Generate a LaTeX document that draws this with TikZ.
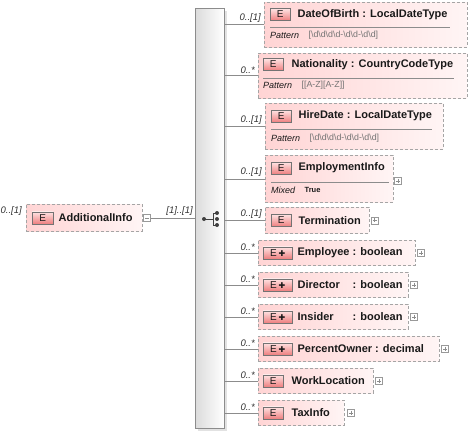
\documentclass[tikz,border=0pt]{standalone}
\usepackage{fontspec}
\setmainfont{Liberation Sans}
\newfontfamily\symfont{DejaVu Sans}
\usetikzlibrary{positioning,calc,shadows}
\definecolor{elpink}{RGB}{255,212,212}
\definecolor{elpinklight}{RGB}{255,245,245}
\definecolor{iconred}{RGB}{238,128,128}
\definecolor{iconlight}{RGB}{255,228,228}
\definecolor{borderdash}{RGB}{165,165,165}
\definecolor{textdark}{RGB}{25,25,25}
\newcommand{\digd}{\textbackslash d}
\newcommand{\eplus}{E\,{\symfont\fontsize{8}{8}\selectfont ✚}}

\tikzset{
	elbox/.style={draw=borderdash, dash pattern=on 3pt off 2pt, left color=elpink, right color=elpinklight, anchor=north west, inner sep=0pt},
	eicon/.style={draw=black!55, top color=iconlight, bottom color=iconred, minimum width=20pt, minimum height=12pt, inner sep=0pt, text=textdark, font=\fontsize{10}{10}\selectfont, anchor=west},
	epicon/.style={eicon, minimum width=29pt},
	elname/.style={font=\fontsize{11}{12}\selectfont\bfseries, text=textdark, anchor=west, inner sep=0pt},
	card/.style={font=\fontsize{9.5}{10}\selectfont\itshape, text=black!80, inner sep=0pt, anchor=south east},
	facet/.style={font=\fontsize{9}{10}\selectfont\itshape, text=textdark, inner sep=0pt, anchor=west},
	facetval/.style={font=\fontsize{8.8}{10}\selectfont, text=black!55, inner sep=0pt, anchor=west},
	sepline/.style={draw=black!45},
	link/.style={draw=black!45},
	plusbox/.style={draw=black!40, fill=white, minimum size=7pt, inner sep=0pt, anchor=west,
		path picture={\draw[black!45] ([xshift=1.5pt]path picture bounding box.west) -- ([xshift=-1.5pt]path picture bounding box.east) ([yshift=-1.5pt]path picture bounding box.north) -- ([yshift=1.5pt]path picture bounding box.south);}},
	minusbox/.style={draw=black!40, fill=white, minimum size=7pt, inner sep=0pt, anchor=west,
		path picture={\draw[black!45] ([xshift=1.5pt]path picture bounding box.west) -- ([xshift=-1.5pt]path picture bounding box.east);}},
}

\begin{document}
\begin{tikzpicture}[x=1pt, y=-1pt]
				\useasboundingbox (0,0) rectangle (470,433);
				\fill[white] (0,0) rectangle (470,433);
				
				% Sequence compositor
				\node[draw=black!45, left color=black!14, right color=white, minimum width=29pt, minimum height=420pt, anchor=north west, inner sep=0pt, drop shadow={shadow xshift=2.5pt, shadow yshift=-2.5pt, fill=black!22}] (seq) at (195,8) {};
				\fill[black!75] (204,219) circle (2pt);
				\draw[black!75] (204,219) -- (213,219) (213,213) -- (213,225) (213,213) -- (217,213) (213,225) -- (217,225);
				\fill[black!75] (217,213) circle (2pt) (217,219) circle (2pt) (217,225) circle (2pt);
				
				% Root element
				\node[elbox, minimum width=116pt, minimum height=27pt] (addinfo) at (26,204) {};
				\node[eicon, minimum width=21pt] (addinfoE) at ([xshift=6pt]addinfo.west) {E};
				\node[elname] (addinfoT) at ([xshift=5pt]addinfoE.east) {AdditionalInfo};
				\node[minusbox] (addinfoM) at ([xshift=1pt]addinfo.east) {};
				\node[card] (addinfoC) at ([xshift=-4pt,yshift=2pt]addinfo.west) {0..[1]};
				\draw[link] (addinfoM.east) -- (addinfoM.east -| seq.west);
				\node[card] (seqC) at ([xshift=-2pt,yshift=2pt]addinfoM.east -| seq.west) {[1]..[1]};
				
				% DateOfBirth
				\node[elbox, minimum width=203pt, minimum height=45pt] (dob) at (264,2) {};
				\node[eicon] (dobE) at ($(dob.north west)+(6,12.5)$) {E};
				\node[elname] (dobT) at ([xshift=7pt]dobE.east) {DateOfBirth : LocalDateType};
				\draw[sepline] ($(dob.north west)+(6,25)$) -- ($(dobT.east |- dob.north)+(2,25)$);
				\node[facet] (dobF) at ($(dob.north west)+(6,33)$) {Pattern};
				\node[facetval] (dobV) at ([xshift=9pt]dobF.east) {[\digd\digd\digd\digd-\digd\digd-\digd\digd]};
				\draw[link] (dob.west -| seq.east) -- (dob.west);
				\node[card] (dobC) at ([xshift=-3pt,yshift=2pt]dob.west) {0..[1]};
				
				% Nationality
				\node[elbox, minimum width=209pt, minimum height=45pt] (nat) at (258,53) {};
				\node[eicon] (natE) at ($(nat.north west)+(5,11.5)$) {E};
				\node[elname] (natT) at ([xshift=8pt]natE.east) {Nationality : CountryCodeType};
				\draw[sepline] ($(nat.north west)+(5,25)$) -- ($(natT.east |- nat.north)+(1,25)$);
				\node[facet] (natF) at ($(nat.north west)+(5,32)$) {Pattern};
				\node[facetval] (natV) at ([xshift=9pt]natF.east) {[[A-Z][A-Z]]};
				\draw[link] (nat.west -| seq.east) -- (nat.west);
				\node[card] (natC) at ([xshift=-3pt,yshift=2pt]nat.west) {0..*};
				
				% HireDate
				\node[elbox, minimum width=178pt, minimum height=46pt] (hire) at (265,103) {};
				\node[eicon] (hireE) at ($(hire.north west)+(6,13)$) {E};
				\node[elname] (hireT) at ([xshift=7pt]hireE.east) {HireDate : LocalDateType};
				\draw[sepline] ($(hire.north west)+(6,26.5)$) -- ($(hireT.east |- hire.north)+(0,26.5)$);
				\node[facet] (hireF) at ($(hire.north west)+(6,35)$) {Pattern};
				\node[facetval] (hireV) at ([xshift=9pt]hireF.east) {[\digd\digd\digd\digd-\digd\digd-\digd\digd]};
				\draw[link] (hire.west -| seq.east) -- (hire.west);
				\node[card] (hireC) at ([xshift=-3pt,yshift=2pt]hire.west) {0..[1]};
				
				% EmploymentInfo
				\node[elbox, minimum width=128pt, minimum height=47pt] (emp) at (265,155) {};
				\node[eicon] (empE) at ($(emp.north west)+(6,13)$) {E};
				\node[elname] (empT) at ([xshift=7pt]empE.east) {EmploymentInfo};
				\draw[sepline] ($(emp.north west)+(6,27)$) -- ($(empT.east |- emp.north)+(4,27)$);
				\node[facet] (empF) at ($(emp.north west)+(6,35)$) {Mixed};
				\node[facetval, text=textdark, font=\fontsize{7.5}{9}\selectfont\bfseries] (empV) at ([xshift=9pt]empF.east) {True};
				\node[plusbox] (empP) at ([xshift=1pt,yshift=-2pt]emp.east) {};
				\draw[link] (emp.west -| seq.east) -- (emp.west);
				\node[card] (empC) at ([xshift=-3pt,yshift=2pt]emp.west) {0..[1]};
				
				% Termination
				\node[elbox, minimum width=104pt, minimum height=26pt] (term) at (265,207) {};
				\node[eicon] (termE) at ([xshift=6pt]term.west) {E};
				\node[elname] (termT) at ([xshift=7pt]termE.east) {Termination};
				\node[plusbox] (termP) at ([xshift=1.5pt]term.east) {};
				\draw[link] (term.west -| seq.east) -- (term.west);
				\node[card] (termC) at ([xshift=-3pt,yshift=2pt]term.west) {0..[1]};
				
				% Employee
				\node[elbox, minimum width=157pt, minimum height=25pt] (empl) at (258,240) {};
				\node[epicon] (emplE) at ([xshift=5pt]empl.west) {\eplus};
				\node[elname] (emplT) at ([xshift=5pt]emplE.east) {\makebox[52pt][l]{Employee} : boolean};
				\node[plusbox] (emplP) at ([xshift=2pt]empl.east) {};
				\draw[link] (empl.west -| seq.east) -- (empl.west);
				\node[card] (emplC) at ([xshift=-3pt,yshift=2pt]empl.west) {0..*};
				
				% Director
				\node[elbox, minimum width=150pt, minimum height=25pt] (dir) at (258,272) {};
				\node[epicon] (dirE) at ([xshift=5pt]dir.west) {\eplus};
				\node[elname] (dirT) at ([xshift=5pt]dirE.east) {\makebox[52pt][l]{Director} : boolean};
				\node[plusbox] (dirP) at ([xshift=2pt]dir.east) {};
				\draw[link] (dir.west -| seq.east) -- (dir.west);
				\node[card] (dirC) at ([xshift=-3pt,yshift=2pt]dir.west) {0..*};
				
				% Insider
				\node[elbox, minimum width=150pt, minimum height=25pt] (ins) at (258,304) {};
				\node[epicon] (insE) at ([xshift=5pt]ins.west) {\eplus};
				\node[elname] (insT) at ([xshift=5pt]insE.east) {\makebox[52pt][l]{Insider} : boolean};
				\node[plusbox] (insP) at ([xshift=2pt]ins.east) {};
				\draw[link] (ins.west -| seq.east) -- (ins.west);
				\node[card] (insC) at ([xshift=-3pt,yshift=2pt]ins.west) {0..*};
				
				% PercentOwner
				\node[elbox, minimum width=181pt, minimum height=25pt] (pct) at (258,336) {};
				\node[epicon] (pctE) at ([xshift=5pt]pct.west) {\eplus};
				\node[elname] (pctT) at ([xshift=5pt]pctE.east) {PercentOwner : decimal};
				\node[plusbox] (pctP) at ([xshift=2pt]pct.east) {};
				\draw[link] (pct.west -| seq.east) -- (pct.west);
				\node[card] (pctC) at ([xshift=-3pt,yshift=2pt]pct.west) {0..*};
				
				% WorkLocation
				\node[elbox, minimum width=115pt, minimum height=25pt] (work) at (258,368) {};
				\node[eicon] (workE) at ([xshift=5pt]work.west) {E};
				\node[elname] (workT) at ([xshift=8pt]workE.east) {WorkLocation};
				\node[plusbox] (workP) at ([xshift=2pt]work.east) {};
				\draw[link] (work.west -| seq.east) -- (work.west);
				\node[card] (workC) at ([xshift=-3pt,yshift=2pt]work.west) {0..*};
				
				% TaxInfo
				\node[elbox, minimum width=86pt, minimum height=25pt] (tax) at (258,400) {};
				\node[eicon] (taxE) at ([xshift=5pt]tax.west) {E};
				\node[elname] (taxT) at ([xshift=8pt]taxE.east) {TaxInfo};
				\node[plusbox] (taxP) at ([xshift=3pt]tax.east) {};
				\draw[link] (tax.west -| seq.east) -- (tax.west);
				\node[card] (taxC) at ([xshift=-3pt,yshift=2pt]tax.west) {0..*};
			\end{tikzpicture}
\end{document}
